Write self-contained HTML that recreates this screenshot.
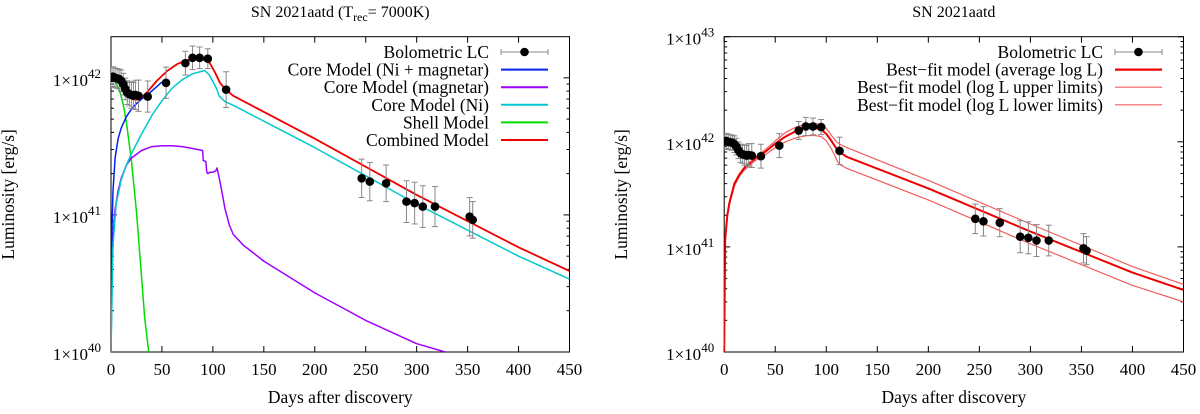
<!DOCTYPE html>
<html><head><meta charset="utf-8"><style>
body{margin:0;background:#fff;width:1200px;height:409px;overflow:hidden}
svg{font-family:"Liberation Serif",serif}
</style></head><body>
<svg id="svg" width="1200" height="409" xmlns="http://www.w3.org/2000/svg"></svg>
<script>
// ---- data (luminosity in units of 1e41 erg/s) ----
const obsDays=[0,2,4,6,8,10,12,14,16,18,20,22,24,27,36,54,73,80,87,95,113,246,254,270,290,298,306,318,352,355];
const obsLum=[10,10.2,10,9.9,9.8,9.5,9.0,8.3,7.8,7.6,7.5,7.4,7.5,7.4,7.3,9.2,12.8,14,14,13.8,8.2,1.85,1.75,1.7,1.25,1.22,1.15,1.15,0.97,0.92];
const obsErr=[1.18,1.18,1.18,1.18,1.18,1.2,1.2,1.2,1.22,1.22,1.25,1.25,1.28,1.3,1.3,1.3,1.22,1.22,1.2,1.18,1.35,1.38,1.38,1.36,1.42,1.42,1.42,1.4,1.38,1.36];
const xTicks=[0,50,100,150,200,250,300,350,400,450];
// left panel models
const combDays=[0,3,6,10,15,20,24,28,35,45,55,65,75,85,92,97,102,107,112,120,200,300,400,450];
const combLum=[10.2,10.4,10.1,9.3,8.1,7.2,6.9,7.0,7.8,9.5,11.2,12.6,13.5,13.7,13.5,12.8,11.0,9.2,8.3,7.4,3.6,1.4,0.58,0.39];
const coreDays=[0,1,2,4,7,10,15,20,25,30,35,40,50];
const coreLum=[0.1,0.8,1.5,2.6,3.6,4.3,5.2,5.9,6.5,7.0,7.5,8.0,9.3];
const niDays=[0,2,5,10,15,20,30,40,50,60,70,80,88,92,96,100,104,106,112,120,200,300,400,450];
const niLum=[0.1,0.6,1.2,1.8,2.3,2.8,3.9,5.3,6.8,8.4,9.7,10.7,11.1,11.3,10.6,9.4,8.2,7.4,6.7,6.3,3.1,1.2,0.5,0.34];
const magDays=[0,1,2,4,7,10,15,20,30,40,50,60,70,80,90,90.5,93,94,95,97,100,103,104,105,108,112,116,120,130,150,200,250,300,328];
const magLum=[0.1,0.4,0.7,1.1,1.5,1.85,2.3,2.6,2.95,3.15,3.2,3.2,3.15,3.05,2.95,2.5,2.45,2.05,2.0,2.05,2.05,2.1,2.2,2.05,1.6,1.1,0.85,0.72,0.6,0.46,0.27,0.17,0.115,0.1];
const shellDays=[0,3,6,9,12,15,20,25,30,33,37];
const shellLum=[10,9.6,8.8,7.8,6.4,4.8,2.5,1.05,0.35,0.18,0.1];
// right panel models
const avgDays=[0,1,3,5,10,15,20,30,40,50,60,70,80,88,95,100,105,110,113,120,200,300,400,450];
const avgLum=[0.1,1.2,2.0,2.6,4.0,4.9,5.7,6.9,8.0,9.6,11.2,12.6,13.5,13.6,13.1,11.9,10.2,8.6,8.0,7.2,3.6,1.4,0.57,0.39];
const upDays=[0,1,3,5,10,15,20,30,40,50,60,70,80,88,95,100,105,110,113,120,200,300,400,450];
const upLum=[0.1,1.1,1.9,2.5,3.9,4.8,5.6,7.0,8.4,10.2,12.2,13.8,14.8,15.0,14.6,13.4,11.5,10.0,9.5,8.8,4.3,1.65,0.65,0.44];
const loDays=[0,1,3,5,10,15,20,30,40,50,60,70,80,88,95,100,105,110,113,120,200,300,400,450];
const loLum=[0.1,1.1,1.9,2.5,3.8,4.7,5.4,6.6,7.5,8.8,10.0,10.9,11.4,11.5,11.2,10.2,8.6,6.8,6.1,5.6,2.8,1.07,0.43,0.30];

const svg=document.getElementById('svg');
const NS='http://www.w3.org/2000/svg';
function mk(tag,attrs,parent){const e=document.createElementNS(NS,tag);for(const k in attrs)e.setAttribute(k,attrs[k]);(parent||svg).appendChild(e);return e;}

function panel(P){
  const g=mk('g',{});
  
  
  const X=d=>P.l+(P.r-P.l)*d/450;
  const Y=v=>{const lg=41+Math.log10(v);return P.b-(lg-40)*(P.b-P.t)/(P.ymax-40);};
  const t=mk('text',{x:(P.l+P.r)/2,y:17,'text-anchor':'middle','font-size':16},g);
  
  t.innerHTML=P.title;
  const fr=mk('rect',{x:P.l,y:P.t,width:P.r-P.l,height:P.b-P.t,fill:'none',stroke:'#000','stroke-width':1},g);
  
  xTicks.forEach(d=>{const x=X(d);
    mk('line',{x1:x,x2:x,y1:P.b,y2:P.b-6,stroke:'#000'},g);
    mk('line',{x1:x,x2:x,y1:P.t,y2:P.t+6,stroke:'#000'},g);
    const tl=mk('text',{x:x,y:P.b+23,'text-anchor':'middle','font-size':17},g);
    
    tl.textContent=d;});
  for(let e=40;e<=P.ymax;e++){
    for(let m=1;m<10;m++){const lg=e+Math.log10(m);if(lg>P.ymax+1e-6)break;
      const y=P.b-(lg-40)*(P.b-P.t)/(P.ymax-40);const len=m==1?6:3;
      mk('line',{x1:P.l,x2:P.l+len,y1:y,y2:y,stroke:'#000'},g);
      mk('line',{x1:P.r,x2:P.r-len,y1:y,y2:y,stroke:'#000'},g);
      if(m==1){const tl=mk('text',{x:P.l-10,y:y+8,'text-anchor':'end','font-size':17},g);
        
        tl.innerHTML='1×10<tspan dy="-8" font-size="13">'+e+'</tspan>';}
    }
  }
  const xt=mk('text',{x:(P.l+P.r)/2,y:403,'text-anchor':'middle','font-size':17.5},g);
  
  xt.textContent='Days after discovery';
  const yt=mk('text',{x:0,y:0,'text-anchor':'middle','font-size':17.5,transform:`translate(${P.yl},${(P.t+P.b)/2}) rotate(-90)`},g);
  
  yt.textContent='Luminosity [erg/s]';
  const cp=mk('clipPath',{id:'c'+P.name},g);mk('rect',{x:P.l,y:P.t,width:P.r-P.l,height:P.b-P.t},cp);
  const plot=mk('g',{'clip-path':`url(#c${P.name})`},g);
  P.series.forEach(s=>{
    const pts=s.d.map((d,i)=>X(d).toFixed(1)+','+Y(s.v[i]).toFixed(1)).join(' ');
    const pl=mk('polyline',{points:pts,fill:'none',stroke:s.c,'stroke-width':s.w,'stroke-linejoin':'round'},plot);
    
  });
  const og=mk('g',{},plot);
  
  obsDays.forEach((d,i)=>{const x=X(d),v=obsLum[i],f=obsErr[i];
    const y1=Y(v*f),y2=Y(v/f);
    mk('line',{x1:x,x2:x,y1:y1,y2:y2,stroke:'#888','stroke-width':1},og);
    mk('line',{x1:x-3,x2:x+3,y1:y1,y2:y1,stroke:'#888'},og);
    mk('line',{x1:x-3,x2:x+3,y1:y2,y2:y2,stroke:'#888'},og);
  });
  obsDays.forEach((d,i)=>{const c=mk('circle',{cx:X(d),cy:Y(obsLum[i]),r:4.3,fill:'#000'},og);
    });
  const lg=mk('g',{},g);
  
  P.legend.forEach((e,i)=>{const y=52+i*17.6;
    const tx=mk('text',{x:P.lx,y:y+6,'text-anchor':'end','font-size':17.5},lg);
    
    tx.textContent=e.t;
    if(e.pt){mk('line',{x1:P.lx+12,x2:P.lx+59,y1:y,y2:y,stroke:'#888'},lg);
      mk('line',{x1:P.lx+12,x2:P.lx+12,y1:y-3,y2:y+3,stroke:'#888'},lg);
      mk('line',{x1:P.lx+59,x2:P.lx+59,y1:y-3,y2:y+3,stroke:'#888'},lg);
      mk('circle',{cx:P.lx+35.5,cy:y,r:4.3,fill:'#000'},lg);}
    else mk('line',{x1:P.lx+12,x2:P.lx+59,y1:y,y2:y,stroke:e.c,'stroke-width':e.w},lg);
  });
}
panel({name:'left-panel',l:111,r:569.5,t:36.7,b:352,ymax:42.3,yl:14,lx:489,
  title:'SN 2021aatd (T<tspan dy="4" font-size="12">rec</tspan><tspan dy="-4">= 7000K)</tspan>',
  series:[{d:shellDays,v:shellLum,c:'#00dd00',w:1.5,n:'shell-model-line'},
    {d:magDays,v:magLum,c:'#a000ff',w:1.5,n:'core-magnetar-line'},
    {d:coreDays,v:coreLum,c:'#0022ee',w:1.5,n:'core-ni-magnetar-line'},
    {d:niDays,v:niLum,c:'#00c8d0',w:1.5,n:'core-ni-line'},
    {d:combDays,v:combLum,c:'#ee0000',w:1.8,n:'combined-model-line'}],
  legend:[{t:'Bolometric LC',pt:1},{t:'Core Model (Ni + magnetar)',c:'#0022ee',w:2},
    {t:'Core Model (magnetar)',c:'#a000ff',w:2},{t:'Core Model (Ni)',c:'#00c8d0',w:2},
    {t:'Shell Model',c:'#00dd00',w:2},{t:'Combined Model',c:'#ee0000',w:2}]});
panel({name:'right-panel',l:724.2,r:1183.5,t:36.7,b:352,ymax:43,yl:627,lx:1103,
  title:'SN 2021aatd',
  series:[{d:upDays,v:upLum,c:'#f06060',w:1.2,n:'upper-limit-model-line'},
    {d:loDays,v:loLum,c:'#f06060',w:1.2,n:'lower-limit-model-line'},
    {d:avgDays,v:avgLum,c:'#ee0000',w:2,n:'average-model-line'}],
  legend:[{t:'Bolometric LC',pt:1},{t:'Best\u2212fit model (average log L)',c:'#ee0000',w:2.2},
    {t:'Best\u2212fit model (log L upper limits)',c:'#f06060',w:1.2},{t:'Best\u2212fit model (log L lower limits)',c:'#f06060',w:1.2}]});
</script>
</body></html>
